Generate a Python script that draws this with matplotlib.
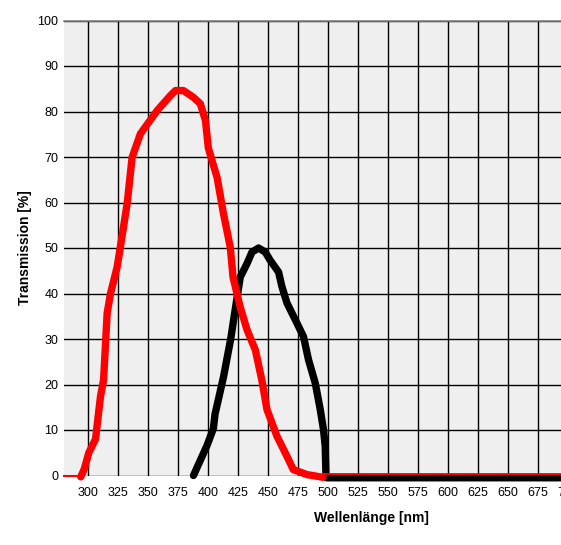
import matplotlib
matplotlib.use("Agg")
import matplotlib.pyplot as plt

# Data
red_nm = [294, 297, 300.7, 306.3, 310.4, 313, 316, 318.8, 324.3, 327, 332.7, 336.8,
          343.75, 357.7, 368.75, 373, 379.6, 388, 393.75, 398, 400.4, 403.5, 407.7,
          413, 418.75, 421, 427, 432.7, 439.6, 445, 449.3, 457.7, 466, 471.25, 482.7, 496]
red_T = [-0.3, 1.5, 5, 8, 17.3, 21, 35.7, 40, 45.8, 50.2, 59.8, 69.9,
         75.1, 80.2, 83.5, 84.6, 84.6, 83.1, 81.7, 78, 72, 69.2, 65.5,
         57.6, 50.1, 43.6, 37, 32, 27.6, 21, 14.5, 8.6, 4.2, 1.3, 0.2, -0.4]
red_base_left_nm = [280, 294]
red_base_left_T = [0, 0]
red_base_right_nm = [496, 700]
red_base_right_T = [0.3, 0.3]

black_nm = [388, 399.3, 404.6, 406, 413, 419, 421.5, 427, 432.7, 436.8, 442.3, 447.9,
            452, 459, 461.8, 466, 474.3, 479.8, 484, 489.6, 493.75, 496.5, 497.9,
            498.5, 499, 700]
black_T = [0, 6.6, 10.3, 13.5, 21.6, 29.9, 34.2, 43.6, 46.6, 49.1, 50, 49.1,
           47.3, 44.7, 41.5, 37.9, 33.5, 30.5, 25.4, 20.3, 14.5, 10, 6.4,
           0, -0.5, -0.5]

x_ticks = list(range(300, 701, 25))
y_ticks = list(range(0, 101, 10))

plt.rcParams['font.family'] = ['Liberation Sans', 'DejaVu Sans']

fig = plt.figure(figsize=(5.61, 5.45), dpi=100)
ax = fig.add_axes([64 / 561, 69.5 / 545, 503.5 / 561, 455 / 545])
ax.set_facecolor('#EFEFEF')
ax.set_xlim(280, 700)
ax.set_ylim(0, 100)
ax.set_xticks(x_ticks)
ax.set_yticks(y_ticks)
ax.set_xticklabels([str(v) for v in x_ticks])
ax.set_yticklabels([str(v) for v in y_ticks])
ax.tick_params(axis='both', length=0, labelsize=9, colors='black')
ax.tick_params(axis='x', pad=8)
ax.tick_params(axis='y', pad=4)
ax.grid(True, color='black', linewidth=1.0)
ax.set_axisbelow(True)
for s in ['left', 'right', 'bottom']:
    ax.spines[s].set_visible(False)
ax.spines['top'].set_color('#808080')
ax.spines['top'].set_linewidth(1.2)

lw = 5.3
ax.plot(black_nm, black_T, color='black', linewidth=lw, solid_capstyle='round',
        solid_joinstyle='round', clip_on=False, zorder=3)
ax.plot(red_base_left_nm, red_base_left_T, color='#FF0000', linewidth=1.5, clip_on=False, zorder=4)
ax.plot(red_base_right_nm, red_base_right_T, color='#FF0000', linewidth=1.3, clip_on=False, zorder=4)
ax.plot(red_nm, red_T, color='#FF0000', linewidth=lw, solid_capstyle='round',
        solid_joinstyle='round', clip_on=False, zorder=4)

ax.set_ylabel('Transmission [%]', fontsize=10, fontweight='bold', labelpad=4)
fig.text(371 / 561, 1 - 518 / 545, 'Wellenlänge [nm]', fontsize=10, fontweight='bold',
         ha='center', va='center')

fig.savefig('out.png', dpi=100)
